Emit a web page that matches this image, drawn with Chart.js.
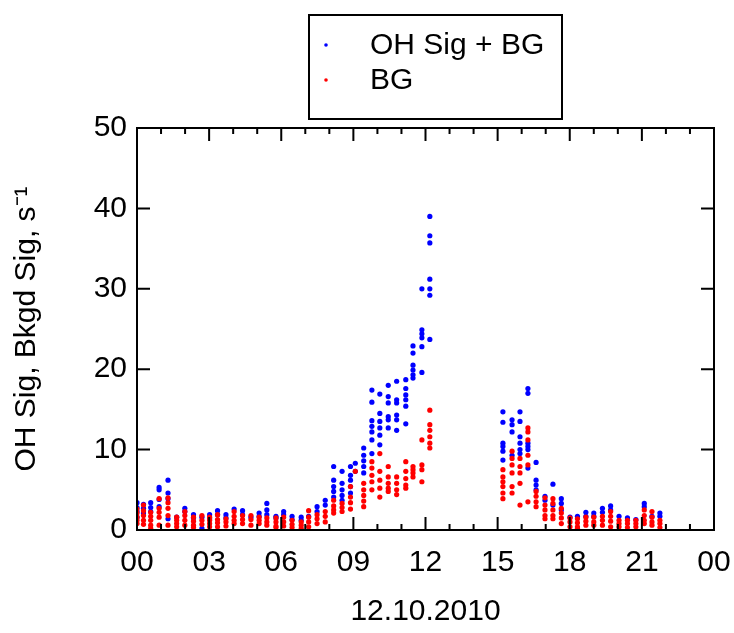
<!DOCTYPE html>
<html>
<head>
<meta charset="utf-8">
<script src="https://cdn.jsdelivr.net/npm/chart.js@4/dist/chart.umd.min.js"></script>
<style>
  html, body { margin: 0; padding: 0; background: #fff; }
  #wrap { width: 734px; height: 633px; }
</style>
</head>
<body>
<div id="wrap"><canvas id="ohChart" width="734" height="633"></canvas></div>
<script>
//-----------------------------------------------------------------------------
// data: one column of points every ~20 minutes
//-----------------------------------------------------------------------------
const hourLabels = ["00", "03", "06", "09", "12", "15", "18", "21", "00"];
const yTickValues = [0, 10, 20, 30, 40, 50];
const seriesNames = ["OH Sig + BG", "BG"];
const seriesColors = ["#0000ff", "#ff0000"];

const clusterHours = [
    0.0, 0.27, 0.57, 0.92, 1.29, 1.65, 1.99, 2.35, 2.7, 3.02,
    3.35, 3.7, 4.04, 4.39, 4.74, 5.08, 5.4, 5.78, 6.1, 6.45,
    6.83, 7.14, 7.49, 7.83, 8.18, 8.53, 8.88, 9.08, 9.43, 9.77,
    10.1, 10.45, 10.8, 11.18, 11.48, 11.85, 12.18,
    15.22, 15.6, 15.93, 16.26, 16.6, 16.97, 17.3, 17.65, 18.01, 18.32,
    18.67, 19.0, 19.36, 19.7, 20.05, 20.4, 20.75, 21.1, 21.42, 21.75
];

// OH signal + background (blue)
const sigValues = [
    [3.4, 2.8, 2.3, 1.6], [3.2, 2.7, 2.1], [3.4, 2.8, 2.3], [5.3, 5.0, 3.8, 2.9], [6.2, 4.6, 3.9, 1.4],
    [1.6], [2.7, 2.3], [1.9, 1.5], [1.6, 0.2], [1.9, 1.4],
    [2.4, 1.9], [1.9, 1.5], [2.6], [2.4, 1.9], [1.6],
    [2.1, 1.7], [3.3, 2.5, 1.9], [1.7, 1.5], [2.3, 1.9], [1.7, 1.3],
    [1.6, 1.2], [1.7], [2.9, 2.3], [3.7, 3.1], [7.9, 6.2, 5.4, 4.8, 4.1],
    [7.3, 5.8, 5.0, 4.3, 3.7], [7.9, 6.8, 6.2, 5.4, 4.6], [8.3, 7.3], [10.2, 9.3, 8.6, 7.9, 7.1], [17.4, 15.9, 13.6, 12.9, 12.2, 11.2, 9.5],
    [16.9, 14.5, 13.5, 12.7, 11.8, 10.6], [18.0, 16.6, 15.8, 14.1, 13.7, 12.7], [18.5, 16.2, 15.8, 14.3, 13.7, 12.4],
    [18.7, 17.6, 16.8, 16.2, 15.4, 13.2], [22.9, 22.0, 20.5, 19.9, 19.3, 18.9], [30.0, 24.9, 24.4, 23.9, 22.8, 19.6],
    [39.0, 36.6, 35.7, 31.2, 30.0, 29.2, 23.7],
    [14.7, 13.4, 10.8, 10.4, 9.8, 8.7], [13.7, 13.1, 12.2, 9.3], [14.7, 13.5, 11.6, 10.8, 10.0, 9.5],
    [17.6, 17.0, 10.8, 10.4, 10.0, 7.7], [8.4, 6.2, 5.6, 5.0], [4.2, 3.7], [5.7, 3.1], [3.9, 3.3, 2.5],
    [1.6], [1.7], [2.2, 1.7], [2.1, 1.7], [2.7, 2.2], [3.0, 2.5], [1.7], [1.5], [1.3],
    [3.3, 2.9], [1.7], [2.1, 1.7]
];

// background only (red)
const bgValues = [
    [2.6, 2.1, 1.6, 1.2, 0.8], [3.1, 2.4, 1.8, 1.2, 0.7], [2.2, 1.7, 1.2, 0.6, 0.2], [3.9, 2.7, 2.2, 1.6, 0.6], [4.0, 3.4, 2.7, 1.8, 0.6],
    [1.6, 1.2, 0.8, 0.4], [2.3, 1.8, 1.2, 0.6], [1.6, 1.1, 0.6, 0.3], [1.8, 1.2, 0.7], [1.6, 1.2, 0.8, 0.4],
    [1.9, 1.3, 0.9, 0.4], [1.4, 1.0, 0.5], [2.3, 1.7, 1.2, 0.8], [1.8, 1.3, 0.8], [1.8, 1.3, 0.6],
    [1.6, 1.2, 0.8], [1.5, 1.0, 0.6], [1.5, 1.0, 0.5, 0.3], [1.6, 1.0, 0.5], [1.2, 0.7, 0.3],
    [1.0, 0.6, 0.2], [2.4, 1.6, 1.0, 0.4], [1.9, 1.4, 0.8], [2.3, 1.7, 1.0], [3.7, 3.0, 2.5, 2.1],
    [3.3, 2.8, 2.3], [5.4, 4.1, 3.4, 2.6], [7.3], [5.8, 5.0, 4.3, 3.6, 2.9], [8.5, 7.7, 6.8, 6.0, 5.0],
    [9.5, 7.3, 6.2, 5.2, 4.1], [7.9, 6.6, 5.8, 5.2, 4.8], [6.6, 5.8, 5.0, 4.4],
    [8.5, 7.3, 6.4, 5.6, 5.2], [7.9, 7.5, 7.1, 6.6], [11.2, 8.1, 7.5, 6.0],
    [14.9, 13.1, 12.4, 11.6, 10.8, 10.2],
    [7.5, 6.6, 6.0, 5.4, 4.6, 3.9], [9.8, 8.9, 8.1, 7.1, 5.4, 4.6], [8.9, 7.9, 7.1, 5.8, 3.1],
    [12.7, 12.2, 11.2, 9.3, 8.1, 3.5], [4.8, 4.2, 3.5, 2.9], [4.0, 3.1, 2.5, 1.8, 1.4], [3.9, 3.3, 2.5, 1.8, 1.4], [2.7, 2.1, 1.5, 0.8],
    [1.5, 1.0, 0.4], [1.4, 0.9, 0.4, 0.2], [1.6, 1.1, 0.6], [1.6, 1.0, 0.6], [1.7, 1.2, 0.6], [2.3, 1.7, 1.1, 0.4],
    [1.2, 0.8, 0.4], [1.2, 0.8, 0.3], [1.2, 0.8, 0.4],
    [2.5, 1.8, 1.2, 0.8], [2.3, 1.6, 1.0, 0.6], [1.2, 0.8, 0.3]
];

//-----------------------------------------------------------------------------
function toPoints(valueColumns){
    const pts = [];
    for (let i = 0 ; i < clusterHours.length ; i ++){
        for (const v of valueColumns[i]){
            pts.push({x: clusterHours[i], y: v});
        }
    }
    return pts;
}
//-----------------------------------------------------------------------------
// box round the plot with inward ticks on all four sides
const frameTicks = {
    id: "frameTicks",
    afterDatasetsDraw(chart){
        const {ctx, chartArea: a, scales: {x, y}} = chart;
        ctx.save();
        ctx.strokeStyle = "#000";
        ctx.lineWidth = 2;
        ctx.beginPath();
        for (let h = 0 ; h <= 24 ; h ++){
            const px = x.getPixelForValue(h);
            const len = (h % 3 === 0) ? 13 : 6;
            ctx.moveTo(px, a.bottom); ctx.lineTo(px, a.bottom - len);
            ctx.moveTo(px, a.top);    ctx.lineTo(px, a.top + len);
        }
        for (const v of yTickValues){
            const py = y.getPixelForValue(v);
            ctx.moveTo(a.left, py);  ctx.lineTo(a.left + 13, py);
            ctx.moveTo(a.right, py); ctx.lineTo(a.right - 13, py);
        }
        ctx.stroke();
        ctx.strokeRect(a.left, a.top, a.right - a.left, a.bottom - a.top);
        ctx.restore();
    }
};
//-----------------------------------------------------------------------------
// legend in a framed box above the plot, one entry per line
const boxLegend = {
    id: "boxLegend",
    afterDraw(chart){
        const ctx = chart.ctx;
        ctx.save();
        ctx.strokeStyle = "#000";
        ctx.lineWidth = 2;
        ctx.strokeRect(309, 15, 253, 104);
        ctx.font = "30px 'Liberation Sans', Arial, sans-serif";
        ctx.textBaseline = "middle";
        ctx.textAlign = "left";
        const rows = [46, 81];
        chart.data.datasets.forEach((ds, i) => {
            ctx.fillStyle = ds.backgroundColor;
            ctx.beginPath();
            ctx.arc(326, rows[i] - 1, 1.8, 0, Math.PI * 2);
            ctx.fill();
            ctx.fillStyle = "#000";
            ctx.fillText(ds.label, 370, rows[i]);
        });
        ctx.restore();
    }
};
//-----------------------------------------------------------------------------
const font30 = {family: "'Liberation Sans', Arial, sans-serif", size: 30};

new Chart(document.getElementById("ohChart"), {
    type: "scatter",
    data: {
        datasets: [
            { label: seriesNames[0], data: toPoints(sigValues), backgroundColor: seriesColors[0],
              borderWidth: 0, pointRadius: 2.6, order: 1 },
            { label: seriesNames[1], data: toPoints(bgValues), backgroundColor: seriesColors[1],
              borderWidth: 0, pointRadius: 2.6, order: 0 }
        ]
    },
    options: {
        responsive: false,
        animation: false,
        events: [],
        layout: { padding: { top: 128, right: 20, left: 0, bottom: 0 } },
        plugins: {
            legend: { display: false },
            tooltip: { enabled: false }
        },
        scales: {
            x: {
                type: "linear", min: 0, max: 24,
                grid: { display: false, drawTicks: false },
                border: { display: false },
                ticks: {
                    stepSize: 3, color: "#000", font: font30, padding: 15, maxRotation: 0,
                    callback: (v) => hourLabels[Math.round(v / 3)]
                },
                title: { display: true, text: "12.10.2010", color: "#000", font: font30,
                         padding: { top: 0, bottom: 3 } },
                afterFit: (s) => { s.height = 103; s.paddingLeft = 0; s.paddingRight = 0; }
            },
            y: {
                min: 0, max: 50,
                grid: { display: false, drawTicks: false },
                border: { display: false },
                ticks: { stepSize: 10, color: "#000", font: font30, padding: 10 },
                title: { display: true, text: "OH Sig, Bkgd Sig, s\u207B\u00B9", color: "#000", font: font30,
                         padding: { top: 9, bottom: 0 } },
                afterFit: (s) => { s.width = 137; s.paddingTop = 0; s.paddingBottom = 0; }
            }
        }
    },
    plugins: [frameTicks, boxLegend]
});
</script>
</body>
</html>
